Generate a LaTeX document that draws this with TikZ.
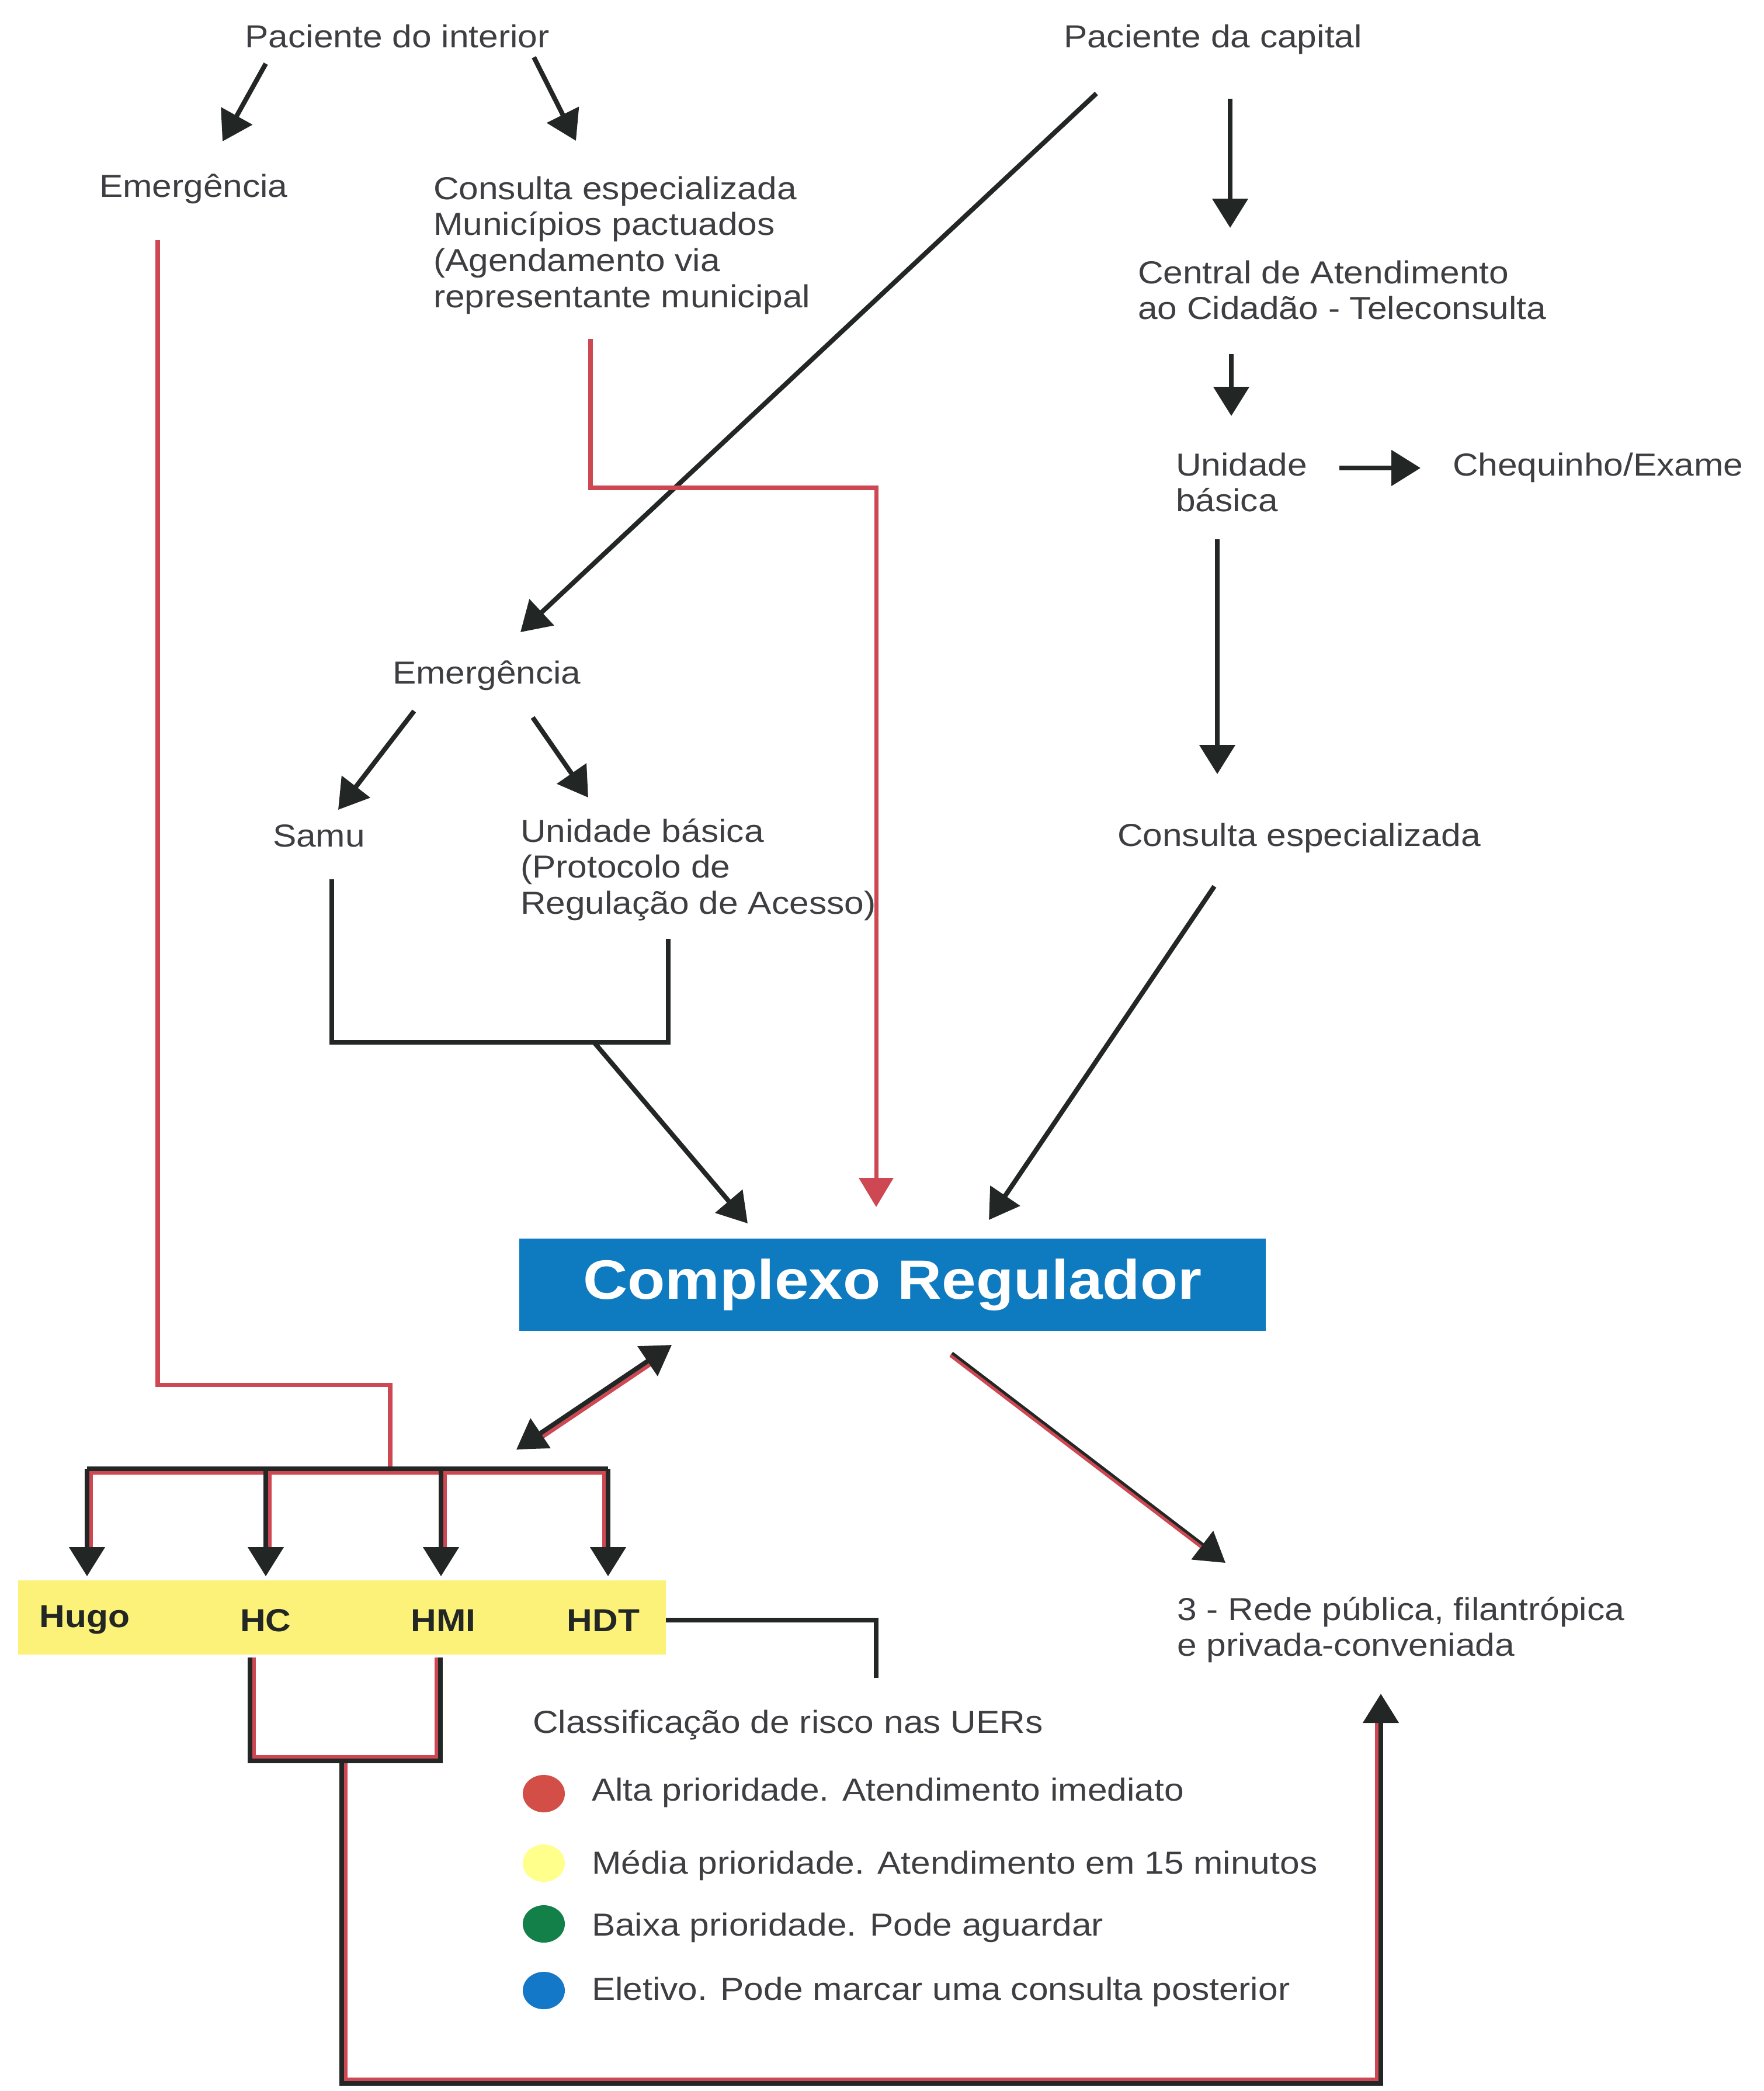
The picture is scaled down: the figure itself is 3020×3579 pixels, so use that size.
\documentclass[tikz,border=0pt]{standalone}
\usepackage{fontspec}
\setmainfont[FakeStretch=1.11]{Liberation Sans}
\usetikzlibrary{arrows.meta}
\definecolor{txt}{RGB}{62,62,66}
\definecolor{ink}{RGB}{34,38,36}
\definecolor{lred}{RGB}{205,72,82}
\definecolor{boxblue}{RGB}{14,122,192}
\definecolor{hyellow}{RGB}{252,242,122}
\definecolor{cred}{RGB}{212,78,72}
\definecolor{cyellow}{RGB}{255,255,140}
\definecolor{cgreen}{RGB}{18,128,72}
\definecolor{cblue}{RGB}{20,120,200}
\begin{document}
\begin{tikzpicture}[x=0.1mm, y=-0.1mm,
  lbl/.style={inner sep=0pt, outer sep=0pt, text=txt, font=\fontsize{15.5}{17.6}\selectfont},
  hosp/.style={inner sep=0pt, outer sep=0pt, text=ink, font=\fontsize{15.5}{17.6}\selectfont\bfseries},
  blk/.style={draw=ink, line width=2.3pt},
  arr/.style={blk, -{Triangle[length=5mm,width=6mm]}},
  redl/.style={draw=lred, line width=2pt},
  redarr/.style={redl, -{Triangle[length=5mm,width=5.8mm]}},
  redside/.style={draw=lred, line width=1.8pt},
]
\useasboundingbox (0,0) rectangle (3020,3579);
\fill[white] (0,0) rectangle (3020,3579);

% ---------- text nodes ----------
\node[lbl, anchor=base] (pi) at (680,82) {Paciente do interior};
\node[lbl, anchor=base west] (pc) at (1821,82) {Paciente da capital};
\node[lbl, anchor=base west] (em1) at (170,337) {Emergência};
\node[lbl, anchor=base west] (ce1) at (742,341) {\vtop{\hbox{Consulta especializada}\hbox{Municípios pactuados}\hbox{(Agendamento via}\hbox{representante municipal}}};
\node[lbl, anchor=base west] (cat) at (1948,485) {\vtop{\hbox{Central de Atendimento}\hbox{ao Cidadão - Teleconsulta}}};
\node[lbl, anchor=base west] (ub1) at (2013,814) {\vtop{\hbox{Unidade}\hbox{básica}}};
\node[lbl, anchor=base west] (cheq) at (2487,814) {Chequinho/Exame};
\node[lbl, anchor=base west] (em2) at (672,1170) {Emergência};
\node[lbl, anchor=base west] (samu) at (467,1449) {Samu};
\node[lbl, anchor=base west] (ub2) at (891,1441) {\vtop{\hbox{Unidade básica}\hbox{(Protocolo de}\hbox{Regulação de Acesso)}}};
\node[lbl, anchor=base west] (ce2) at (1913,1448) {Consulta especializada};

\node[fill=boxblue, inner sep=0pt, minimum width=127.8mm, minimum height=15.8mm,
      text=white, font=\fontsize{27}{30}\selectfont\bfseries] (cr) at (1528,2199) {Complexo Regulador};

\node[fill=hyellow, inner sep=0pt, minimum width=110.9mm, minimum height=12.7mm] (bar) at (585.5,2768.5) {};
\node[hosp, anchor=base] (hugo) at (145,2785) {Hugo};
\node[hosp, anchor=base] (hc) at (455,2792) {HC};
\node[hosp, anchor=base] (hmi) at (759,2792) {HMI};
\node[hosp, anchor=base] (hdt) at (1033,2792) {HDT};

\node[lbl, anchor=base west] (rede) at (2015,2773) {\vtop{\hbox{3 - Rede pública, filantrópica}\hbox{e privada-conveniada}}};
\node[lbl, anchor=base west] (cls) at (912,2966) {Classificação de risco nas UERs};

\fill[cred] (931,3070) ellipse [x radius=3.6mm, y radius=3.2mm];
\fill[cyellow] (931,3189) ellipse [x radius=3.6mm, y radius=3.2mm];
\fill[cgreen] (931,3293) ellipse [x radius=3.6mm, y radius=3.2mm];
\fill[cblue] (931,3407) ellipse [x radius=3.6mm, y radius=3.2mm];
\node[lbl, anchor=base west] (l1) at (1013,3082) {Alta prioridade. Atendimento imediato};
\node[lbl, anchor=base west] (l2) at (1013,3207) {Média prioridade. Atendimento em 15 minutos};
\node[lbl, anchor=base west] (l3) at (1013,3313) {Baixa prioridade. Pode aguardar};
\node[lbl, anchor=base west] (l4) at (1013,3423) {Eletivo. Pode marcar uma consulta posterior};

% ---------- connector end points ----------
\coordinate (a1s) at (455,109);  \coordinate (a1e) at (381,242);
\coordinate (a2s) at (914,98);   \coordinate (a2e) at (986,241);
\coordinate (a3s) at (1877,160); \coordinate (a3e) at (891,1082);
\coordinate (a4s) at (2106,169); \coordinate (a4e) at (2106,390);
\coordinate (a5s) at (2108,606); \coordinate (a5e) at (2108,712);
\coordinate (a6s) at (2293,801); \coordinate (a6e) at (2432,801);
\coordinate (a7s) at (2084,923); \coordinate (a7e) at (2084,1325);
\coordinate (a8s) at (2079,1517);\coordinate (a8e) at (1693,2088);
\coordinate (a9s) at (709,1217); \coordinate (a9e) at (579,1386);
\coordinate (a10s) at (912,1228);\coordinate (a10e) at (1007,1365);
\coordinate (sb) at (568,1505);  \coordinate (ubb) at (1144,1607);
\coordinate (br1) at (568,1784); \coordinate (br2) at (1144,1784);
\coordinate (a11s) at (1017,1784); \coordinate (a11e) at (1280,2094);
\coordinate (r1s) at (1011,580); \coordinate (r1a) at (1011,835);
\coordinate (r1b) at (1500,835); \coordinate (r1e) at (1500,2066);
\coordinate (r2s) at (270,411);  \coordinate (r2a) at (270,2370);
\coordinate (r2b) at (668,2370); \coordinate (r2e) at (668,2518);
\coordinate (dA) at (884,2481);  \coordinate (dB) at (1150,2302);
\coordinate (rdS) at (1629,2317);\coordinate (rdE) at (2098,2675);

% ---------- black arrows ----------
\draw[arr] (a1s) -- (a1e);
\draw[arr] (a2s) -- (a2e);
\draw[arr] (a3s) -- (a3e);
\draw[arr] (a4s) -- (a4e);
\draw[arr] (a5s) -- (a5e);
\draw[arr] (a6s) -- (a6e);
\draw[arr] (a7s) -- (a7e);
\draw[arr] (a8s) -- (a8e);
\draw[arr] (a9s) -- (a9e);
\draw[arr] (a10s) -- (a10e);
\draw[blk] (sb) -- (br1) -- (br2) -- (ubb);
\draw[arr] (a11s) -- (a11e);

% ---------- red lines ----------
\draw[redarr] (r1s) -- (r1a) -- (r1b) -- (r1e);
\draw[redl] (r2s) -- (r2a) -- (r2b) -- (r2e);

% ---------- hospital distribution bar ----------
\coordinate (bL) at (149,2514); \coordinate (bR) at (1041,2514);
\coordinate (bHugo) at (149,2698); \coordinate (bHC) at (455,2698);
\coordinate (bHMI) at (755,2698); \coordinate (bHDT) at (1041,2698);
\draw[redside] (156,2660) -- (156,2521) -- (1034,2521) -- (1034,2660);
\draw[redside] (462,2521) -- (462,2660);
\draw[redside] (762,2521) -- (762,2660);
\draw[blk] (bL) -- (bR);
\draw[arr] (bL) -- (bHugo);
\draw[arr] (455,2514) -- (bHC);
\draw[arr] (755,2514) -- (bHMI);
\draw[arr] (bR) -- (bHDT);

% HDT -> classification
\coordinate (hd1) at (1140,2773); \coordinate (hd2) at (1500,2773); \coordinate (hd3) at (1500,2872);
\draw[blk] (hd1) -- (hd2) -- (hd3);

% HC / HMI bracket and return to the network
\coordinate (hcb) at (428,2837); \coordinate (hmib) at (754,2837);
\coordinate (k1) at (428,3014); \coordinate (k2) at (754,3014);
\coordinate (m1) at (585,3014); \coordinate (m2) at (585,3566);
\coordinate (m3) at (2364,3566); \coordinate (m4) at (2364,2899);
\draw[redside] (435,2837) -- (435,3007) -- (747,3007) -- (747,2837);
\draw[redside] (592,3014) -- (592,3559) -- (2357,3559) -- (2357,2940);
\draw[blk] (hcb) -- (k1) -- (k2) -- (hmib);
\draw[arr] (m1) -- (m2) -- (m3) -- (m4);

% Complexo <-> hospitals
\draw[redside, shorten <=4.5mm, shorten >=4.5mm] ([shift={(4,6)}]dA) -- ([shift={(4,6)}]dB);
\draw[blk, {Triangle[length=5mm,width=6mm]}-{Triangle[length=5mm,width=6mm]}] (dA) -- (dB);

% Complexo -> rede
\draw[arr] (rdS) -- (rdE);
\draw[draw=lred, line width=1.5pt, shorten >=5mm] ([shift={(-2,3)}]rdS) -- ([shift={(-2,3)}]rdE);
\end{tikzpicture}
\end{document}
